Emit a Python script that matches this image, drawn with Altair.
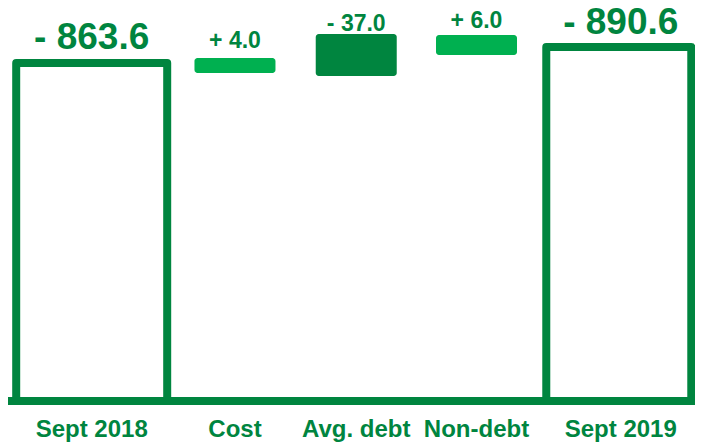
import altair as alt
import pandas as pd

# Data (bar extents in chart units, baseline = 0)
categories = ["Sept 2018", "Cost", "Avg. debt", "Non-debt", "Sept 2019"]
value_labels = ["- 863.6", "+ 4.0", "- 37.0", "+ 6.0", "- 890.6"]
bar_low = [0, 328, 325, 346, 0]
bar_high = [338, 343, 367, 366, 354]
kinds = ["total", "up", "down", "up", "total"]

df = pd.DataFrame({
    "cat": categories,
    "label": value_labels,
    "low": bar_low,
    "high": bar_high,
    "kind": kinds,
})

DARK = "#00853F"
LIGHT = "#00B050"
FONT = "Liberation Sans"

# per-category styling (offsets, sizes)
styles = {
    "Sept 2018": dict(dx=0, bdx=0, width=151, dy=-14, fs=37),
    "Cost": dict(dx=11, bdx=11, width=81, dy=-10, fs=23),
    "Avg. debt": dict(dx=0, bdx=0, width=81, dy=-3, fs=23),
    "Non-debt": dict(dx=-12, bdx=-12, width=81, dy=-7, fs=23),
    "Sept 2019": dict(dx=0, bdx=-2, width=145, dy=-13, fs=37),
}

xenc = alt.X("cat:N", sort=categories, axis=None,
             scale=alt.Scale(type="point", padding=0.597, align=0.53))
yscale = alt.Scale(domain=[0, 393], nice=False, zero=True)

base = alt.Chart(df)
bars = []
texts = []
for cat in categories:
    s = styles[cat]
    sub = base.transform_filter(alt.datum.cat == cat)
    kind = df.loc[df.cat == cat, "kind"].iloc[0]
    if kind == "total":
        mark = sub.mark_bar(size=s["width"], xOffset=s["bdx"], fill="white",
                            stroke=DARK, strokeWidth=8, strokeJoin="round")
    else:
        mark = sub.mark_bar(size=s["width"], xOffset=s["bdx"], cornerRadius=3,
                            fill=DARK if kind == "down" else LIGHT)
    bars.append(mark.encode(x=xenc,
                            y=alt.Y("low:Q", scale=yscale, axis=None),
                            y2="high:Q"))
    texts.append(sub.mark_text(dx=s["dx"], dy=s["dy"], fontSize=s["fs"],
                               fontWeight="bold", font=FONT, color=DARK,
                               baseline="alphabetic", align="center")
                 .encode(x=xenc, y=alt.Y("high:Q", scale=yscale), text="label:N"))
    texts.append(sub.mark_text(dx=s["dx"], dy=36, fontSize=24,
                               fontWeight="bold", font=FONT, color=DARK,
                               baseline="alphabetic", align="center")
                 .encode(x=xenc, y=alt.datum(0), text="cat:N"))

baseline = base.mark_rule(color=DARK, strokeWidth=8, strokeCap="round").encode(
    y=alt.datum(0), x=alt.value(-1), x2=alt.value(700))

chart = alt.layer(*bars, baseline, *texts).properties(
    width=687, height=393, autosize="none",
    padding={"left": 0, "right": 0, "top": 0, "bottom": 42},
).configure_view(stroke=None)

chart.save("out.html", embed_options={"renderer": "svg", "actions": False})
